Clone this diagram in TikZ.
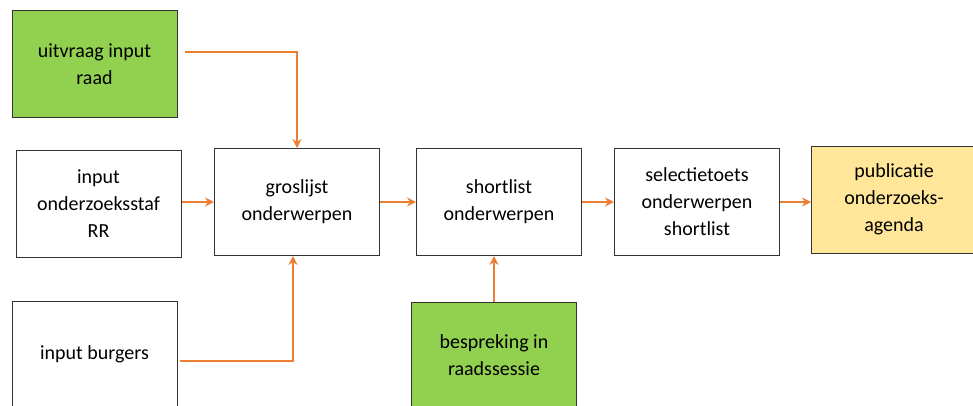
\documentclass[tikz,border=0pt]{standalone}
\usepackage{fontspec}
\setmainfont{Carlito}
\usepackage{xcolor}
\usepackage{tikz}
\usetikzlibrary{positioning,arrows.meta}

\definecolor{groen}{RGB}{146,208,80}
\definecolor{geel}{RGB}{255,230,153}
\definecolor{oranje}{RGB}{237,125,49}

\begin{document}
\begin{tikzpicture}[x=1pt,y=-1pt,node distance=34pt,>={Stealth[length=9pt,width=9pt]},
  every node/.style={rectangle,draw=black!80,line width=1pt,minimum width=165pt,
    minimum height=107pt,align=center,inner sep=2pt,font=\fontsize{20}{27}\selectfont},
  pijl/.style={->,draw=oranje,line width=1.5pt}]
  \useasboundingbox (0,0) rectangle (973,405);
  \node[fill=groen] (uitvraag) at (94.5,64) {uitvraag input\\raad};
  \node (staf) at (98.5,203.5) {input\\onderzoeksstaf\\RR};
  \node (burgers) at (94.5,354.5) {input burgers};
  \node (groslijst) at (297,202) {groslijst\\onderwerpen};
  \node[right=36pt of groslijst] (shortlist) {shortlist\\onderwerpen};
  \node[right=32pt of shortlist] (selectie) {selectietoets\\onderwerpen\\shortlist};
  \node[fill=geel] (publicatie) at (894,199.5) {publicatie\\onderzoeks-\\agenda};
  \node[fill=groen] (bespreking) at (494,355.5) {bespreking in\\raadssessie};
  % pijlen
  \draw[pijl] ([shift={(7,-12)}]uitvraag.east) -| (groslijst.north);
  \draw[pijl] (staf.east |- groslijst.west) -- (groslijst.west);
  \draw[pijl] ([shift={(2,6.5)}]burgers.east) -| ([xshift=-4]groslijst.south);
  \draw[pijl] (groslijst) -- (shortlist);
  \draw[pijl] (shortlist) -- (selectie);
  \draw[pijl] (selectie.east) -- (selectie.east -| publicatie.west);
  \draw[pijl] (bespreking.north) -- (bespreking.north |- shortlist.south);
\end{tikzpicture}
\end{document}
